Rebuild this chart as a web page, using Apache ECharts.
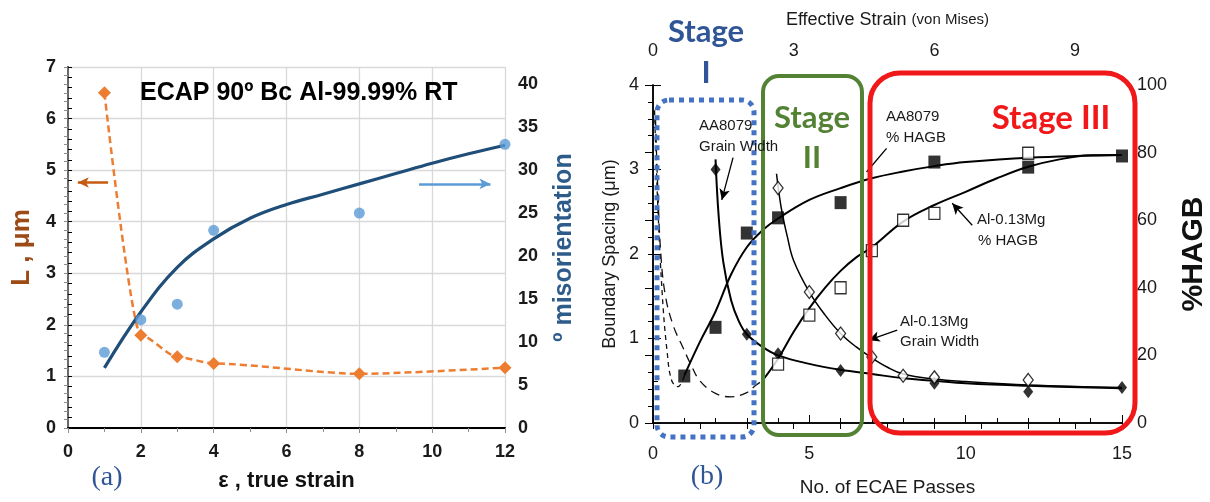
<!DOCTYPE html>
<html>
<head>
<meta charset="utf-8">
<script src="https://cdn.jsdelivr.net/npm/echarts@6/dist/echarts.min.js"></script>
<style>
  html, body { margin: 0; padding: 0; background: #fff; }
  #chart { width: 1210px; height: 502px; }
</style>
</head>
<body>
<div id="chart"></div>
<script>
// ---- panel (a): ECAP Al-99.99% ----
const strainA = [1, 2, 3, 4, 8, 12];
const grainL = [6.5, 1.8, 1.38, 1.25, 1.05, 1.17];
const misoDots = [8.8, 12.6, 14.4, 23.0, 25.0, 33.0];
const fitStrain = [1, 2, 3, 4, 5, 6, 7, 8, 9, 10, 11, 12];
const fitMiso = [7.0, 13.5, 18.7, 22.0, 24.4, 26.0, 27.2, 28.4, 29.6, 30.8, 31.9, 32.9];

// ---- panel (b): ECAE passes ----
const aaWidthPass = [2, 3, 4, 6, 9, 12, 15];
const aaWidth = [3.0, 1.05, 0.82, 0.62, 0.47, 0.37, 0.42];
const mgWidthPass = [4, 5, 6, 7, 8, 9, 12];
const mgWidth = [2.78, 1.55, 1.06, 0.78, 0.56, 0.54, 0.51];
const aaHagbPass = [1, 2, 3, 4, 6, 9, 12, 15];
const aaHagb = [13.9, 28.3, 56.2, 60.7, 65.2, 77.2, 75.7, 79.0];
const mgHagbPass = [4, 5, 6, 7, 8, 9, 12];
const mgHagb = [17.4, 31.9, 40.0, 51.0, 60.0, 62.0, 79.8];

const aaWidthFitPass = [2, 2.1, 2.25, 2.5, 2.75, 3, 3.5, 4, 5, 6, 7, 8, 9, 10, 12, 15];
const aaWidthFit = [3.12, 2.45, 1.9, 1.45, 1.2, 1.05, 0.9, 0.8, 0.7, 0.63, 0.58, 0.53, 0.5, 0.47, 0.44, 0.41];
const mgWidthFitPass = [3.95, 4.1, 4.3, 4.5, 5, 5.5, 6, 6.5, 7, 7.5, 8, 9, 10, 12, 15];
const mgWidthFit = [2.95, 2.55, 2.2, 1.92, 1.55, 1.28, 1.06, 0.9, 0.77, 0.66, 0.58, 0.52, 0.49, 0.45, 0.42];
const aaHagbFitPass = [1, 1.5, 2, 2.5, 3, 3.5, 4, 5, 6, 7, 8, 9, 10, 12, 15];
const aaHagbFit = [14, 24, 33, 44, 52, 57, 60.5, 66, 69.5, 72.4, 74.4, 76, 77.2, 78.5, 79.3];
const mgHagbFitPass = [3.5, 4, 4.5, 5, 5.5, 6, 6.5, 7, 8, 9, 10, 11, 12, 13, 14, 15];
const mgHagbFit = [12.5, 19, 27, 34, 40, 45, 49, 52, 59.6, 64.5, 68.4, 72.4, 75.8, 78, 79.2, 79.3];

// dashed extrapolations in stage I (boundary spacing units)
const dashAPass = [0.05, 0.15, 0.3, 0.45, 0.6, 0.8, 1.0];
const dashA = [3.7, 2.6, 1.5, 0.85, 0.5, 0.43, 0.556];
const dashBPass = [0.08, 0.15, 0.25, 0.4, 0.65, 0.95, 1.2, 1.5, 2.0, 2.5, 3.0, 3.3, 3.5];
const dashB = [3.6, 2.8, 2.0, 1.5, 1.15, 0.9, 0.7, 0.5, 0.35, 0.31, 0.36, 0.45, 0.5];

const zip = (xs, ys) => xs.map((x, i) => [x, ys[i]]);

const SANS = '"Liberation Sans", Arial, sans-serif';
const STAGE = 'Lato, "Open Sans", sans-serif';

const chart = echarts.init(document.getElementById('chart'));

const boldLabel = { fontFamily: SANS, fontSize: 18, fontWeight: 'bold', color: '#1a1a1a' };
const plainLabel = { fontFamily: SANS, fontSize: 18, color: '#1a1a1a' };

function text(x, y, str, opts) {
    return {
        type: 'text', z: 20, x: x, y: y, silent: true,
        style: Object.assign({
            text: str, fill: '#1a1a1a', font: '15px ' + SANS,
            align: 'left', textAlign: 'left',
            verticalAlign: 'middle', textVerticalAlign: 'middle'
        }, opts || {})
    };
}

function box(x, y, w, h, r, color, width, dash) {
    return {
        type: 'rect', z: 15, silent: true,
        shape: { x: x, y: y, width: w, height: h, r: r },
        style: { fill: 'none', stroke: color, lineWidth: width, lineDash: dash || null }
    };
}

const arrowLine = {
    silent: true, animation: false,
    symbol: ['none', 'arrow'], symbolSize: [8, 11],
    label: { show: false },
    lineStyle: { type: 'solid', color: '#000', width: 1.3 }
};

const options = {
    animation: false,
    backgroundColor: '#fff',
    grid: [
        { left: 68, top: 67, width: 437, height: 361 },
        { left: 653, top: 85, width: 470, height: 338 }
    ],
    xAxis: [{
        gridIndex: 0, type: 'value', min: 0, max: 12, interval: 2, position: 'bottom',
        axisLine: { lineStyle: { color: '#8c8c8c', width: 1.5 } },
        axisTick: { length: 5, lineStyle: { color: '#8c8c8c' } },
        minorTick: { show: true, splitNumber: 2, length: 4, lineStyle: { color: '#8c8c8c' } },
        axisLabel: Object.assign({ margin: 15 }, boldLabel),
        splitLine: { show: true, lineStyle: { color: '#d9d9d9', width: 1.3 } },
        name: 'ε , true strain', nameLocation: 'middle', nameGap: 42,
        nameTextStyle: { fontFamily: SANS, fontSize: 22, fontWeight: 'bold', color: '#111' }
    }, {
        gridIndex: 0, type: 'value', min: 0, max: 12, position: 'top',
        axisLine: { lineStyle: { color: '#000', width: 2 } },
        axisTick: { show: false }, axisLabel: { show: false }, splitLine: { show: false }
    }, {
        gridIndex: 1, type: 'value', min: 0, max: 15, interval: 5, position: 'bottom',
        axisLine: { lineStyle: { color: '#000', width: 1.5 } },
        axisTick: { inside: true, length: 8, lineStyle: { color: '#000' } },
        minorTick: { show: true, splitNumber: 5, length: 5, lineStyle: { color: '#000' } },
        axisLabel: Object.assign({ margin: 22 }, plainLabel),
        splitLine: { show: false },
        name: 'No. of ECAE Passes', nameLocation: 'middle', nameGap: 55,
        nameTextStyle: { fontFamily: SANS, fontSize: 19, color: '#1a1a1a' }
    }, {
        gridIndex: 1, type: 'value', min: 0, max: 10, interval: 1, position: 'top',
        axisLine: { lineStyle: { color: '#000', width: 1.5 } },
        axisTick: { inside: true, length: 6, lineStyle: { color: '#000' } },
        axisLabel: Object.assign({
            margin: 25,
            formatter: function (v) { return v % 3 === 0 ? String(v) : ''; }
        }, plainLabel),
        splitLine: { show: false },
        name: '{a|Effective Strain }{b|(von Mises)}', nameLocation: 'middle', nameGap: 56,
        nameTextStyle: {
            rich: {
                a: { fontFamily: SANS, fontSize: 18, color: '#1a1a1a' },
                b: { fontFamily: SANS, fontSize: 15, color: '#1a1a1a' }
            }
        }
    }],
    yAxis: [{
        gridIndex: 0, type: 'value', min: 0, max: 7, interval: 1, position: 'left',
        axisLine: { show: true, lineStyle: { color: '#000', width: 2 } },
        axisTick: { show: true, inside: true, length: 4, lineStyle: { color: '#000' } },
        minorTick: { show: true, splitNumber: 5, length: 4, lineStyle: { color: '#000' } },
        axisLabel: Object.assign({ margin: 12 }, boldLabel),
        splitLine: { show: true, lineStyle: { color: '#d9d9d9', width: 1.3 } },
        name: 'L , μm', nameLocation: 'middle', nameRotate: 90, nameGap: 33,
        nameTextStyle: { fontFamily: SANS, fontSize: 26, fontWeight: 'bold', color: '#9c4a16' }
    }, {
        gridIndex: 0, type: 'value', min: 0, max: 42, interval: 1, position: 'right',
        axisLine: { show: true, lineStyle: { color: '#8c8c8c', width: 1.5 } },
        axisTick: { show: true, inside: true, length: 4, lineStyle: { color: '#8c8c8c' } },
        axisLabel: Object.assign({
            margin: 13,
            formatter: function (v) { return v % 5 === 0 && v <= 40 ? String(v) : ''; }
        }, boldLabel),
        splitLine: { show: false },
        name: 'º misorientation', nameLocation: 'middle', nameRotate: 90, nameGap: 47,
        nameTextStyle: { fontFamily: SANS, fontSize: 25, fontWeight: 'bold', color: '#2e5c8a' }
    }, {
        gridIndex: 1, type: 'value', min: 0, max: 4, interval: 1, position: 'left',
        axisLine: { show: true, lineStyle: { color: '#000', width: 1.5 } },
        axisTick: { show: true, inside: true, length: 8, lineStyle: { color: '#000' } },
        minorTick: { show: true, splitNumber: 2, length: 5, lineStyle: { color: '#000' } },
        axisLabel: Object.assign({ margin: 14 }, plainLabel),
        splitLine: { show: false },
        name: 'Boundary Spacing (μm)', nameLocation: 'middle', nameRotate: 90, nameGap: 34,
        nameTextStyle: { fontFamily: SANS, fontSize: 18, color: '#1a1a1a' }
    }, {
        gridIndex: 1, type: 'value', min: 0, max: 100, interval: 20, position: 'right',
        axisLine: { show: true, lineStyle: { color: '#000', width: 1.5 } },
        axisTick: { show: true, inside: true, length: 8, lineStyle: { color: '#000' } },
        minorTick: { show: true, splitNumber: 4, length: 5, lineStyle: { color: '#000' } },
        axisLabel: Object.assign({ margin: 15 }, plainLabel),
        splitLine: { show: false },
        name: '%HAGB', nameLocation: 'middle', nameRotate: 90, nameGap: 57,
        nameTextStyle: { fontFamily: SANS, fontSize: 30, fontWeight: 'bold', color: '#111' }
    }],
    series: [
        // panel (a)
        {
            name: 'L', type: 'line', xAxisIndex: 0, yAxisIndex: 0,
            data: zip(strainA, grainL), smooth: 0.25, smoothMonotone: 'x',
            symbol: 'diamond', symbolSize: 13,
            itemStyle: { color: '#ed7d31' },
            lineStyle: { color: '#ed7d31', width: 2.5, type: [7, 4] },
            markLine: Object.assign({}, arrowLine, {
                lineStyle: { type: 'solid', color: '#c55a11', width: 2.5 },
                data: [[{ coord: [1.1, 4.76] }, { coord: [0.27, 4.76] }]]
            })
        },
        {
            name: 'fit', type: 'line', xAxisIndex: 0, yAxisIndex: 1,
            data: zip(fitStrain, fitMiso), smooth: 0.4, showSymbol: false, symbol: 'none',
            lineStyle: { color: '#1f4e79', width: 3.2 },
            markLine: Object.assign({}, arrowLine, {
                lineStyle: { type: 'solid', color: '#5b9bd5', width: 2.5 },
                data: [[{ coord: [9.64, 28.4] }, { coord: [11.6, 28.4] }]]
            })
        },
        {
            name: 'misorientation', type: 'scatter', xAxisIndex: 0, yAxisIndex: 1,
            data: zip(strainA, misoDots), symbol: 'circle', symbolSize: 11, z: 3,
            itemStyle: { color: '#5b9bd5' }
        },
        // panel (b) dashed stage I curves
        {
            type: 'line', xAxisIndex: 2, yAxisIndex: 2, data: zip(dashAPass, dashA),
            smooth: 0.4, symbol: 'none', lineStyle: { color: '#111', width: 1.3, type: [5, 4] }
        },
        {
            type: 'line', xAxisIndex: 2, yAxisIndex: 2, data: zip(dashBPass, dashB),
            smooth: 0.4, symbol: 'none', lineStyle: { color: '#111', width: 1.3, type: [9, 6] }
        },
        // fitted curves
        {
            type: 'line', xAxisIndex: 2, yAxisIndex: 2, data: zip(aaWidthFitPass, aaWidthFit),
            smooth: 0.4, symbol: 'none', lineStyle: { color: '#000', width: 2 },
            markLine: Object.assign({}, arrowLine, {
                data: [
                    [{ coord: [2.56, 3.14] }, { coord: [2.2, 2.64] }],
                    [{ coord: [7.47, 3.25], symbol: 'none' }, { coord: [6.83, 2.97], symbol: 'none' }],
                    [{ coord: [10.21, 2.34] }, { coord: [9.57, 2.6] }],
                    [{ coord: [7.81, 1.1] }, { coord: [6.9, 0.98] }]
                ]
            })
        },
        {
            type: 'line', xAxisIndex: 2, yAxisIndex: 2, data: zip(mgWidthFitPass, mgWidthFit),
            smooth: 0.4, symbol: 'none', lineStyle: { color: '#000', width: 1.5 }
        },
        {
            type: 'line', xAxisIndex: 2, yAxisIndex: 3, data: zip(aaHagbFitPass, aaHagbFit),
            smooth: 0.4, symbol: 'none', lineStyle: { color: '#000', width: 2 }
        },
        {
            type: 'line', xAxisIndex: 2, yAxisIndex: 3, data: zip(mgHagbFitPass, mgHagbFit),
            smooth: 0.4, symbol: 'none', lineStyle: { color: '#000', width: 2 }
        },
        // markers
        {
            name: 'AA8079 Grain Width', type: 'scatter', xAxisIndex: 2, yAxisIndex: 2,
            data: zip(aaWidthPass, aaWidth), symbol: 'diamond', symbolSize: [10, 13], z: 5,
            itemStyle: { color: '#000' }
        },
        {
            name: 'Al-0.13Mg Grain Width', type: 'scatter', xAxisIndex: 2, yAxisIndex: 2,
            data: zip(mgWidthPass, mgWidth), symbol: 'diamond', symbolSize: [10, 13], z: 5,
            itemStyle: { color: '#fff', borderColor: '#000', borderWidth: 1.3 }
        },
        {
            name: 'AA8079 % HAGB', type: 'scatter', xAxisIndex: 2, yAxisIndex: 3,
            data: zip(aaHagbPass, aaHagb), symbol: 'rect', symbolSize: [12, 13], z: 5,
            itemStyle: { color: '#000' }
        },
        {
            name: 'Al-0.13Mg % HAGB', type: 'scatter', xAxisIndex: 2, yAxisIndex: 3,
            data: zip(mgHagbPass, mgHagb), symbol: 'rect', symbolSize: [11, 12], z: 5,
            itemStyle: { color: '#fff', borderColor: '#000', borderWidth: 1.3 }
        }
    ],
    graphic: [
        text(140, 93, 'ECAP 90º Bc Al-99.99% RT', { font: 'bold 25px ' + SANS, fill: '#000' }),
        text(107, 478, '(a)', { font: '28px "Liberation Serif", serif', fill: '#2f5597', align: 'center', textAlign: 'center' }),
        text(707, 477, '(b)', { font: '28px "Liberation Serif", serif', fill: '#2f5597', align: 'center', textAlign: 'center' }),

        box(657, 100, 97, 337, 12, '#4472c4', 5, [5, 5]),
        box(763, 76, 99, 359, 16, '#548235', 4),
        box(870, 73, 265, 360, 30, '#f01818', 5),

        text(706, 32, 'Stage', { font: 'bold 31px ' + STAGE, fill: '#2f5597', align: 'center', textAlign: 'center' }),
        text(706, 73, 'I', { font: 'bold 31px ' + STAGE, fill: '#2f5597', align: 'center', textAlign: 'center' }),
        text(812, 118, 'Stage', { font: 'bold 31px ' + STAGE, fill: '#548235', align: 'center', textAlign: 'center' }),
        text(812, 158, 'II', { font: 'bold 31px ' + STAGE, fill: '#548235', align: 'center', textAlign: 'center' }),
        text(1051, 118, 'Stage III', { font: 'bold 33px ' + STAGE, fill: '#f01818', align: 'center', textAlign: 'center' }),

        text(699, 126, 'AA8079', {}),
        text(699, 147, 'Grain Width', {}),
        text(886, 117, 'AA8079', {}),
        text(886, 138, '% HAGB', {}),
        text(977, 220, 'Al-0.13Mg', {}),
        text(978, 241, '% HAGB', {}),
        text(900, 322, 'Al-0.13Mg', {}),
        text(900, 342, 'Grain Width', {})
    ]
};

chart.setOption(options);
</script>
</body>
</html>
